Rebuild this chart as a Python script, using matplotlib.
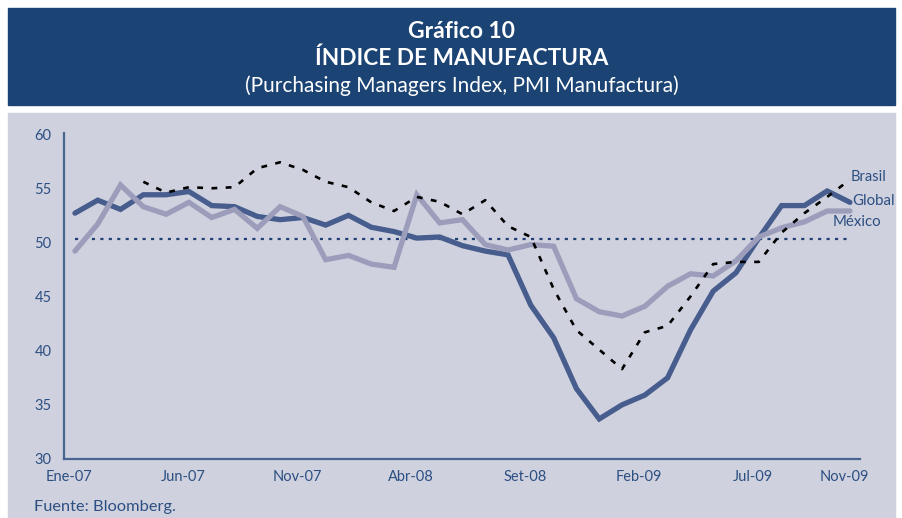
import numpy as np
import matplotlib
matplotlib.use("Agg")
import matplotlib.pyplot as plt
from matplotlib.patches import Rectangle

plt.rcParams['font.family'] = ['Lato', 'DejaVu Sans']

# ---- data (monthly, Ene-07 .. Nov-09) ----
tick_months = [0, 5, 10, 15, 20, 25, 30, 34]
tick_labels = ['Ene-07', 'Jun-07', 'Nov-07', 'Abr-08', 'Set-08', 'Feb-09', 'Jul-09', 'Nov-09']

global_pmi = [52.7, 53.9, 53.05, 54.4, 54.4, 54.7, 53.4, 53.3, 52.4, 52.1,
              52.3, 51.6, 52.5, 51.4, 51.0, 50.4, 50.5, 49.7, 49.2, 48.85,
              44.2, 41.2, 36.5, 33.7, 35.0, 35.9, 37.5, 41.9, 45.5, 47.2,
              50.4, 53.4, 53.4, 54.75, 53.7]
mexico_pmi = [49.2, 51.7, 55.3, 53.3, 52.6, 53.7, 52.3, 53.05, 51.3, 53.3,
              52.4, 48.4, 48.8, 48.0, 47.7, 54.4, 51.8, 52.1, 49.8, 49.3,
              49.8, 49.65, 44.8, 43.6, 43.2, 44.1, 45.95, 47.1, 46.9, 48.3,
              50.5, 51.35, 51.9, 52.9, 52.9]
brasil_pmi = [np.nan, np.nan, np.nan, 55.6, 54.6, 55.1, 55.0, 55.1, 56.85, 57.4,
              56.7, 55.6, 55.1, 53.7, 52.9, 54.2, 53.75, 52.6, 53.9, 51.5,
              50.5, 45.7, 41.9, 40.1, 38.3, 41.7, 42.3, 45.0, 48.0, 48.2,
              48.2, 50.9, 52.7, 54.2, 55.8]
threshold = 50.3

months = np.arange(len(global_pmi))

# ---- colours ----
header_col = '#1b4373'
panel_col = '#cfd1de'
text_col = '#2c4f82'
axis_col = '#4b6593'
global_col = '#475d8d'
mexico_col = '#9b9dbb'

W, H = 902, 518
fig = plt.figure(figsize=(W / 100, H / 100), dpi=100)
fig.patch.set_facecolor('white')

# header band and panel
fig.add_artist(Rectangle((8 / W, (H - 105) / H), (895 - 8) / W, (105 - 8) / H,
                         transform=fig.transFigure, color=header_col, zorder=0))
fig.add_artist(Rectangle((8 / W, 0), (895 - 8) / W, (H - 113) / H,
                         transform=fig.transFigure, color=panel_col, zorder=0))

cx = 462 / W
fig.text(cx, (H - 31) / H, 'Gráfico 10', color='white', fontsize=16.5,
         fontweight='bold', ha='center', va='center')
fig.text(cx, (H - 58) / H, 'ÍNDICE DE MANUFACTURA', color='white', fontsize=16.3,
         fontweight='bold', ha='center', va='center')
fig.text(cx, (H - 86) / H, '(Purchasing Managers Index, PMI Manufactura)',
         color='white', fontsize=15, ha='center', va='center')

# axes
left_px, right_px, top_px, bot_px = 64, 860, 132.5, 459
ax = fig.add_axes([left_px / W, (H - bot_px) / H, (right_px - left_px) / W,
                   (bot_px - top_px) / H])
ax.set_facecolor('none')
ax.set_xlim(-0.48, 34.44)
ax.set_ylim(30, 60.15)

for s in ['top', 'right']:
    ax.spines[s].set_visible(False)
for s in ['left', 'bottom']:
    ax.spines[s].set_color(axis_col)
    ax.spines[s].set_linewidth(1.6)

ax.set_yticks([30, 35, 40, 45, 50, 55, 60])
ax.set_xticks([m - 0.25 for m in tick_months])
ax.set_xticklabels(tick_labels)
ax.tick_params(axis='both', length=0, colors=text_col, labelsize=10.5)
ax.tick_params(axis='y', pad=9)
ax.tick_params(axis='x', pad=8)

ax.hlines(threshold, months[0], months[-1], colors='#1f3f74', linewidth=1.6,
          linestyles=(0, (1.4, 2.4)), zorder=1)

ax.plot(months, global_pmi, color=global_col, linewidth=3.8, zorder=2,
        solid_joinstyle='miter', solid_capstyle='round')
ax.plot(months, mexico_pmi, color=mexico_col, linewidth=3.8, zorder=3,
        solid_joinstyle='miter', solid_capstyle='round')
ax.plot(months, brasil_pmi, color='black', linewidth=1.9, zorder=4,
        linestyle=(0, (2.2, 3.2)))

ax.text(34.05, 56.0, 'Brasil', color=text_col, fontsize=10.5, ha='left',
        va='center', clip_on=False)
ax.text(34.1, 53.8, 'Global', color=text_col, fontsize=10.8, ha='left',
        va='center', clip_on=False)
ax.text(33.25, 51.85, 'México', color=text_col, fontsize=10.8, ha='left',
        va='center', clip_on=False)

fig.text(34 / W, (H - 507) / H, 'Fuente: Bloomberg.', color=text_col,
         fontsize=11.8, ha='left', va='center')

fig.savefig('out.png', dpi=100, facecolor='white')
